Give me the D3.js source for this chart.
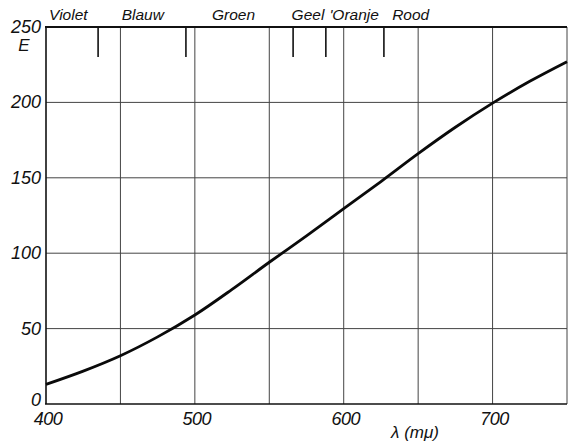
<!DOCTYPE html>
<html>
<head>
<meta charset="utf-8">
<script src="https://cdn.jsdelivr.net/npm/d3@7"></script>
<style>
  html, body { margin: 0; padding: 0; background: #fff; }
  svg { display: block; }
  text { font-family: "Liberation Sans", "DejaVu Sans", sans-serif; font-style: italic; fill: #111; }
</style>
</head>
<body>
<script>
// Wavelength (mμ) and relative energy E
const wavelength = [400, 425, 450, 475, 500, 525, 550, 575, 600, 625, 650, 675, 700, 725, 750];
const energy     = [13, 21.8, 32, 44.5, 59, 76, 94, 111.5, 129.5, 147.5, 166, 183.5, 199.5, 214, 227];

// Colour band names and the wavelength each name is centred on
const bandNames  = ["Violet", "Blauw", "Groen", "Geel", "'Oranje", "Rood"];
const bandCentre = [415, 465, 526, 576, 607, 645];
// Boundaries between the colour bands
const bandEdges  = [435, 494, 566, 588, 627];

const xTicks = [400, 500, 600, 700];
const xGrid  = [450, 500, 550, 600, 650, 700, 750];
const yTicks = [0, 50, 100, 150, 200, 250];
const yGrid  = [50, 100, 150, 200];

const W = 568, H = 443;
const m = { left: 46, right: 1, top: 27, bottom: 39 };

const svg = d3.select("body").append("svg").attr("width", W).attr("height", H);

const x = d3.scaleLinear().domain([400, 750]).range([m.left, W - m.right]);
const y = d3.scaleLinear().domain([0, 250]).range([H - m.bottom, m.top]);

// grid
svg.append("g").selectAll("line").data(xGrid).join("line")
  .attr("x1", d => x(d)).attr("x2", d => x(d))
  .attr("y1", y(0)).attr("y2", y(250))
  .attr("stroke", "#444").attr("stroke-width", 1);
svg.append("g").selectAll("line").data(yGrid).join("line")
  .attr("x1", x(400)).attr("x2", x(750))
  .attr("y1", d => y(d)).attr("y2", d => y(d))
  .attr("stroke", "#444").attr("stroke-width", 1);

// frame: left, bottom, top
svg.append("line").attr("x1", x(400)).attr("x2", x(400)).attr("y1", y(0)).attr("y2", y(250))
  .attr("stroke", "#111").attr("stroke-width", 1.6);
svg.append("line").attr("x1", x(400) - 1).attr("x2", x(750)).attr("y1", y(0)).attr("y2", y(0))
  .attr("stroke", "#111").attr("stroke-width", 1.6);
svg.append("line").attr("x1", x(400) - 1).attr("x2", x(750)).attr("y1", y(250)).attr("y2", y(250))
  .attr("stroke", "#111").attr("stroke-width", 1.8);

// colour band boundary marks hanging from the top edge
svg.append("g").selectAll("line").data(bandEdges).join("line")
  .attr("x1", d => x(d)).attr("x2", d => x(d))
  .attr("y1", y(250)).attr("y2", y(250) + 30)
  .attr("stroke", "#111").attr("stroke-width", 1.6);

// colour band names
svg.append("g").selectAll("text").data(bandNames).join("text")
  .attr("x", (d, i) => x(bandCentre[i]))
  .attr("y", 20)
  .attr("text-anchor", "middle")
  .attr("font-size", 15.5)
  .text(d => d);

// y tick labels
svg.append("g").selectAll("text").data(yTicks).join("text")
  .attr("x", 41)
  .attr("y", d => d === 0 ? y(d) + 2 : y(d) + 6)
  .attr("text-anchor", "end")
  .attr("font-size", 18)
  .text(d => d);

// x tick labels
svg.append("g").selectAll("text").data(xTicks).join("text")
  .attr("x", d => x(d) + 2)
  .attr("y", 425)
  .attr("text-anchor", "middle")
  .attr("font-size", 18)
  .attr("letter-spacing", -0.5)
  .text(d => d);

// axis titles
svg.append("text").attr("x", 24).attr("y", 51).attr("text-anchor", "middle")
  .attr("font-size", 17).text("E");
svg.append("text").attr("x", 415).attr("y", 438).attr("text-anchor", "middle")
  .attr("font-size", 17).text("λ (mμ)");

// energy curve
const line = d3.line()
  .x((d, i) => x(wavelength[i]))
  .y(d => y(d))
  .curve(d3.curveCatmullRom.alpha(0.5));
svg.append("path").datum(energy)
  .attr("d", line)
  .attr("fill", "none")
  .attr("stroke", "#0a0a0a")
  .attr("stroke-width", 2.8)
  .attr("stroke-linejoin", "round");
</script>
</body>
</html>
